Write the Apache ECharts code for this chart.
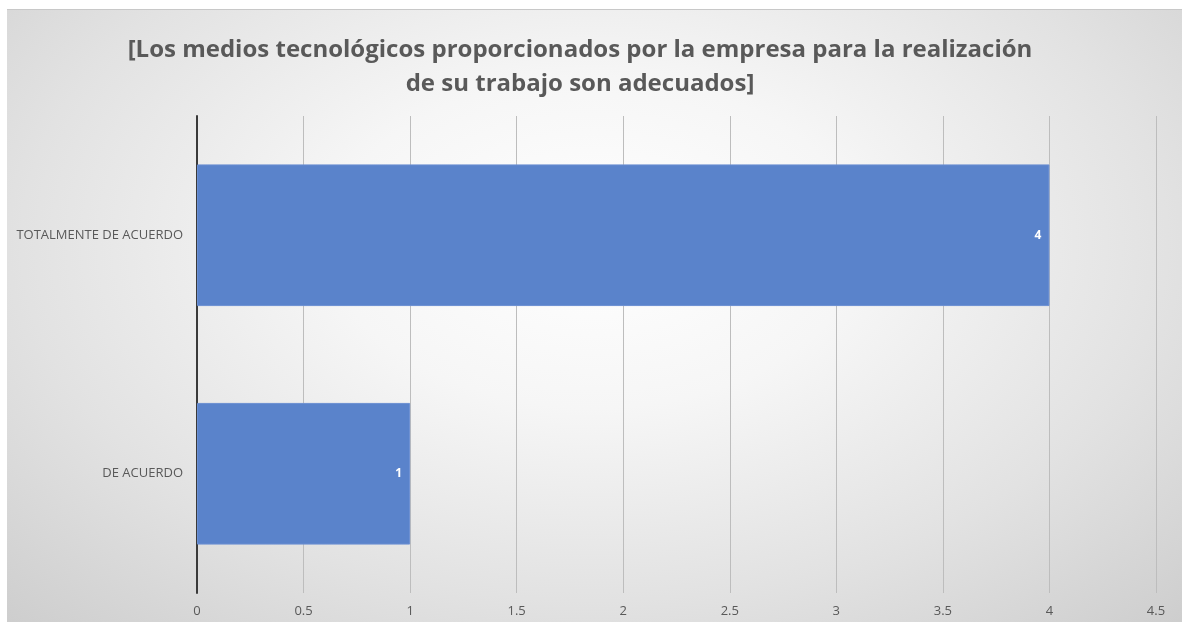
<!DOCTYPE html>
<html>
<head>
<meta charset="utf-8">
<script src="https://cdn.jsdelivr.net/npm/echarts@6/dist/echarts.min.js"></script>
<style>
  html, body { margin: 0; padding: 0; background: #ffffff; }
  #chart {
    position: absolute; left: 7px; top: 9px; width: 1175px; height: 613px;
    background: radial-gradient(ellipse 75% 90% at 50% 38%, #ffffff 0%, #f6f6f6 30%, #e2e2e2 65%, #cbcbcb 100%);
    border-top: 1px solid #c8c8c8;
    box-sizing: border-box;
  }
</style>
</head>
<body>
<div id="chart"></div>
<script>
// Survey answers for the statement shown in the title
const titleText = '[Los medios tecnológicos proporcionados por la empresa para la realización\nde su trabajo son adecuados]';
const categories = ['DE ACUERDO', 'TOTALMENTE DE ACUERDO'];
const counts = [1, 4];
const xMax = 4.5;
const xStep = 0.5;

const chart = echarts.init(document.getElementById('chart'));
chart.setOption({
  backgroundColor: 'transparent',
  animation: false,
  title: {
    text: titleText,
    left: 568,
    top: 18,
    textAlign: 'center',
    textStyle: {
      fontFamily: 'Open Sans',
      fontWeight: 'bold',
      fontSize: 24,
      lineHeight: 34,
      color: '#595959'
    }
  },
  grid: { left: 190, right: 26, top: 106, bottom: 29, containLabel: false },
  xAxis: {
    type: 'value',
    min: 0,
    max: xMax,
    interval: xStep,
    axisLine: { show: false },
    axisTick: { show: false },
    splitLine: { show: true, lineStyle: { color: '#bdbdbd', width: 1 } },
    axisLabel: {
      color: '#595959',
      fontFamily: 'Open Sans',
      fontSize: 13,
      margin: 12
    }
  },
  yAxis: {
    type: 'category',
    data: categories,
    axisLine: { show: true, lineStyle: { color: '#3a3a3a', width: 2 } },
    axisTick: { show: false },
    axisLabel: {
      color: '#595959',
      fontFamily: 'Open Sans',
      fontSize: 13,
      margin: 14
    }
  },
  series: [{
    type: 'bar',
    data: counts,
    barCategoryGap: '40.6%',
    itemStyle: { color: '#5a83cb', borderColor: '#6b8fd2', borderWidth: 1 },
    label: {
      show: true,
      position: 'insideRight',
      distance: 8,
      color: '#ffffff',
      fontWeight: 'bold',
      fontFamily: 'Open Sans',
      fontSize: 12
    }
  }]
});
</script>
</body>
</html>
